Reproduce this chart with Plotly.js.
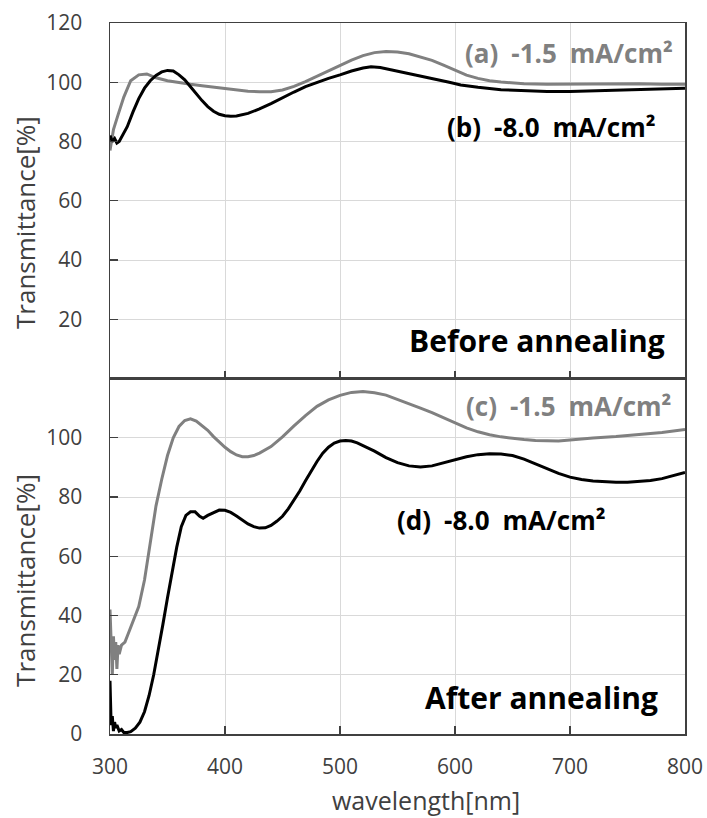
<!DOCTYPE html>
<html>
<head>
<meta charset="utf-8">
<script src="https://cdn.plot.ly/plotly-3.0.1.min.js"></script>
<style>html,body{margin:0;padding:0;background:#fff;}#chart{width:707px;height:818px;}</style>
</head>
<body>
<div id="chart"></div>
<script>
// (a) before annealing, -1.5 mA/cm2
const wlA = [300,303,307,312,318,325,332,340,350,360,370,380,390,400,410,420,430,440,450,460,470,480,490,500,510,520,530,540,550,560,570,580,590,600,610,620,630,640,650,660,680,700,720,740,760,780,800];
const tA  = [77,84,89,95,100.5,102.5,102.8,101.5,100.5,99.8,99.3,98.8,98.3,97.9,97.4,97,96.8,96.8,97.4,98.6,100.2,102,104,105.8,107.5,109,110,110.4,110.2,109.6,108.6,107.4,105.8,104,102.4,101.3,100.5,100.1,99.7,99.5,99.3,99.4,99.5,99.4,99.5,99.3,99.3];
// (b) before annealing, -8.0 mA/cm2
const wlB = [300,302,304,306,308,311,315,320,325,330,335,340,345,350,355,360,365,370,375,380,385,390,395,400,405,410,420,430,440,450,460,470,480,490,500,510,520,527,535,545,555,565,575,585,595,605,620,640,660,680,700,720,740,760,780,800];
const tB  = [82,80,81,79.5,80,82,85,90,94.5,98,100.5,102.3,103.5,104,103.8,102.5,100.8,98.5,96,93.8,91.8,90.2,89.2,88.7,88.5,88.6,89.5,91,92.8,94.8,96.7,98.5,100,101.3,102.5,103.8,104.8,105.2,105,104.2,103.4,102.5,101.7,100.9,100,99.1,98.3,97.5,97.1,96.9,96.9,97.1,97.3,97.5,97.8,98];
// (c) after annealing, -1.5 mA/cm2
const wlC = [300,301,302,303,304,305,306,307,308,310,313,316,320,325,330,335,340,345,350,355,360,365,370,375,380,385,390,395,400,405,410,415,420,425,430,440,450,460,470,480,490,500,510,520,530,540,550,560,570,580,590,600,610,620,630,640,650,660,670,680,690,700,710,720,740,760,780,800];
const tC  = [42,30,20,33,25,31,22,30,27,30,31,34,38,43,52,65,77,86,94,100,103.8,105.8,106.4,105.6,104.2,102.5,100.4,98.5,96.8,95.3,94.2,93.6,93.6,94,94.8,97,100.3,104,107.5,110.6,112.8,114.3,115.3,115.6,115.2,114.4,113,111.5,110,108.5,106.7,104.9,103.3,102,101,100.3,99.8,99.4,99.1,98.9,98.9,99.2,99.6,99.9,100.4,101,101.8,102.8];
// (d) after annealing, -8.0 mA/cm2
const wlD = [300,300.5,301,302,303,304,305,306,308,310,312,315,318,322,326,330,334,338,342,346,350,354,358,362,366,370,374,378,381,385,390,395,400,405,410,415,420,425,430,435,440,445,450,455,460,465,470,475,480,485,490,495,500,505,510,515,520,530,540,550,560,570,580,590,600,610,620,630,640,650,660,670,680,690,700,710,720,730,740,750,760,770,780,790,800];
const tD  = [18,10,3,6,1,4,2,3,1,1.5,0.5,0.5,0.8,2,4,7.5,13,20,28,37,46,55,63,70,73.8,75,75,73.5,72.8,73.8,74.8,75.6,75.5,74.8,73.6,72.2,70.9,70,69.5,69.6,70.4,71.8,73.5,76,79,82,85.5,89,92,94.8,96.8,98.2,98.9,99.1,98.9,98.3,97.4,95.5,93.3,91.6,90.5,90.1,90.5,91.5,92.6,93.6,94.3,94.6,94.5,94,92.8,91.2,89.5,88,86.7,85.9,85.4,85.1,85,85,85.2,85.6,86.2,87.2,88.3];

const xTicks = [300,400,500,600,700,800];
const yTicksTop = [20,40,60,80,100,120];
const yTicksBottom = [0,20,40,60,80,100];

const GREY = '#808080', BLACK = '#000000';
const FONT = '"Open Sans", "Noto Sans", sans-serif';
const TXT = '#404040';
const SP = '\u2002';

const traces = [
  {x: wlA, y: tA, xaxis: 'x2', yaxis: 'y2', mode: 'lines', line: {color: GREY, width: 3}, name: '(a) -1.5 mA/cm²'},
  {x: wlB, y: tB, xaxis: 'x2', yaxis: 'y2', mode: 'lines', line: {color: BLACK, width: 3}, name: '(b) -8.0 mA/cm²'},
  {x: wlC, y: tC, xaxis: 'x', yaxis: 'y', mode: 'lines', line: {color: GREY, width: 3}, name: '(c) -1.5 mA/cm²'},
  {x: wlD, y: tD, xaxis: 'x', yaxis: 'y', mode: 'lines', line: {color: BLACK, width: 3}, name: '(d) -8.0 mA/cm²'}
];

const axCommon = {
  showline: true, linecolor: '#404040', linewidth: 1.5, mirror: true,
  ticks: 'inside', ticklen: 8, tickwidth: 1.2, tickcolor: '#404040',
  showgrid: true, gridcolor: '#d9d9d9', gridwidth: 1, zeroline: false,
  tickfont: {family: FONT, size: 21, color: TXT}
};

function lab(s) { return '<b>' + s.split(' ').join(SP) + '</b>'; }

const layout = {
  width: 707, height: 818,
  margin: {l: 110, r: 22, t: 23, b: 84},
  paper_bgcolor: '#fff', plot_bgcolor: '#fff',
  showlegend: false,
  font: {family: FONT, color: TXT},
  xaxis: Object.assign({}, axCommon, {domain: [0,1], anchor: 'y', range: [300,800], tickvals: xTicks, ticktext: xTicks.map(String), ticklabelstandoff: 13}),
  xaxis2: Object.assign({}, axCommon, {domain: [0,1], anchor: 'y2', range: [300,800], tickvals: xTicks, showticklabels: false, matches: 'x'}),
  yaxis: Object.assign({}, axCommon, {domain: [0,0.5], anchor: 'x', range: [0,120], tickvals: yTicksBottom, ticktext: yTicksBottom.map(String), ticklabelstandoff: 22}),
  yaxis2: Object.assign({}, axCommon, {domain: [0.5,1], anchor: 'x2', range: [0,120], tickvals: yTicksTop, ticktext: yTicksTop.map(String), ticklabelstandoff: 22}),
  annotations: [
    {xref: 'x2', yref: 'y2', x: 791, y: 109.9, xanchor: 'right', yanchor: 'middle', showarrow: false, text: lab('(a) -1.5 mA/cm²'), font: {family: FONT, size: 26, color: GREY}},
    {xref: 'x2', yref: 'y2', x: 776.5, y: 84.9, xanchor: 'right', yanchor: 'middle', showarrow: false, text: lab('(b) -8.0 mA/cm²'), font: {family: FONT, size: 26, color: BLACK}},
    {xref: 'x2', yref: 'y2', x: 784, y: 12.8, xanchor: 'right', yanchor: 'middle', showarrow: false, text: '<b>Before annealing</b>', font: {family: FONT, size: 30, color: BLACK}},
    {xref: 'x', yref: 'y', x: 789.6, y: 110.6, xanchor: 'right', yanchor: 'middle', showarrow: false, text: lab('(c) -1.5 mA/cm²'), font: {family: FONT, size: 26, color: GREY}},
    {xref: 'x', yref: 'y', x: 733, y: 72.4, xanchor: 'right', yanchor: 'middle', showarrow: false, text: lab('(d) -8.0 mA/cm²'), font: {family: FONT, size: 26, color: BLACK}},
    {xref: 'x', yref: 'y', x: 778, y: 12.3, xanchor: 'right', yanchor: 'middle', showarrow: false, text: '<b>After annealing</b>', font: {family: FONT, size: 30, color: BLACK}},
    {xref: 'paper', yref: 'paper', x: -0.148, y: 0.72, xanchor: 'center', yanchor: 'middle', textangle: -90, showarrow: false, text: 'Transmittance[%]', font: {family: FONT, size: 26, color: TXT}},
    {xref: 'paper', yref: 'paper', x: -0.148, y: 0.2166, xanchor: 'center', yanchor: 'middle', textangle: -90, showarrow: false, text: 'Transmittance[%]', font: {family: FONT, size: 26, color: TXT}},
    {xref: 'paper', yref: 'paper', x: 0.55, y: -0.0935, xanchor: 'center', yanchor: 'middle', showarrow: false, text: 'wavelength[nm]', font: {family: FONT, size: 25, color: TXT}}
  ]
};

Plotly.newPlot('chart', traces, layout, {staticPlot: true, displayModeBar: false});
</script>
</body>
</html>
